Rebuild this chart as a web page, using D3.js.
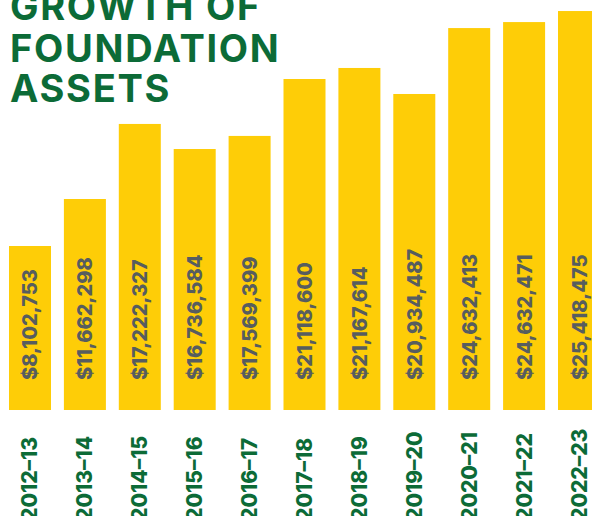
<!DOCTYPE html>
<html>
<head>
<meta charset="utf-8">
<script src="https://cdn.jsdelivr.net/npm/d3@7"></script>
<style>
  body { margin: 0; background: #fff; }
  svg { display: block; }
</style>
</head>
<body>
<div id="chart"></div>
<script>
// fiscal years shown on the x axis
const years = ["2012–13", "2013–14", "2014–15", "2015–16", "2016–17", "2017–18",
    "2018–19", "2019–20", "2020–21", "2021–22", "2022–23"];

// assets as printed inside each bar
const assets = [8102753, 11662298, 17222327, 16736584, 17569399, 21118600,
    21167614, 20934487, 24632413, 24632471, 25418475];

// bar heights as drawn in the picture, in $ millions (the artwork is not to scale)
const barLevels = [10.40, 13.38, 18.14, 16.55, 17.38, 20.99, 21.69, 20.04, 24.22, 24.60, 25.30];

const titleLines = ["GROWTH OF", "FOUNDATION", "ASSETS"];

const width = 592, height = 516;
const baseline = 410;

const svg = d3.select("#chart")
    .append("svg")
    .attr("width", width)
    .attr("height", height);

const x = d3.scaleBand()
    .domain(years)
    .range([9, 600])
    .paddingInner(0.235)
    .paddingOuter(0);

const y = d3.scaleLinear()
    .domain([0, 26])
    .range([baseline, 0]);

const rows = years.map((yr, i) => ({ year: yr, total: assets[i], level: barLevels[i] }));

// bars
svg.selectAll("rect.bar")
    .data(rows)
    .join("rect")
    .attr("class", "bar")
    .attr("x", d => x(d.year))
    .attr("y", d => y(d.level))
    .attr("width", x.bandwidth())
    .attr("height", d => y(0) - y(d.level))
    .attr("fill", "#FECD07");

// value labels, rotated inside the bars
svg.selectAll("text.value")
    .data(rows)
    .join("text")
    .attr("class", "value")
    .attr("transform", d => `translate(${x(d.year) + x.bandwidth() / 2 + 7.5},380) rotate(-90)`)
    .attr("text-anchor", "start")
    .style("font-family", "Inter, 'Open Sans', sans-serif")
    .style("font-weight", 800)
    .style("font-size", "20px")
    .attr("fill", "#575D5F")
    .text(d => "$" + d3.format(",")(d.total));

// year labels below the bars (run off the bottom edge, as in the artwork)
svg.selectAll("text.year")
    .data(rows)
    .join("text")
    .attr("class", "year")
    .attr("transform", d => `translate(${x(d.year) + x.bandwidth() / 2 + 7.5},521) rotate(-90)`)
    .attr("text-anchor", "start")
    .style("font-family", "Inter, 'Open Sans', sans-serif")
    .style("font-weight", 800)
    .style("font-size", "21px")
    .attr("fill", "#0C6B37")
    .text(d => d.year);

// title
const titleBase = [20, 62, 101.5];
svg.selectAll("text.title")
    .data(titleLines)
    .join("text")
    .attr("class", "title")
    .attr("x", 10)
    .attr("y", (d, i) => titleBase[i])
    .style("font-family", "Inter, 'Open Sans', sans-serif")
    .style("font-weight", 700)
    .style("font-size", "38px")
    .style("letter-spacing", "1.7px")
    .attr("fill", "#0C6B37")
    .text(d => d);
</script>
</body>
</html>
